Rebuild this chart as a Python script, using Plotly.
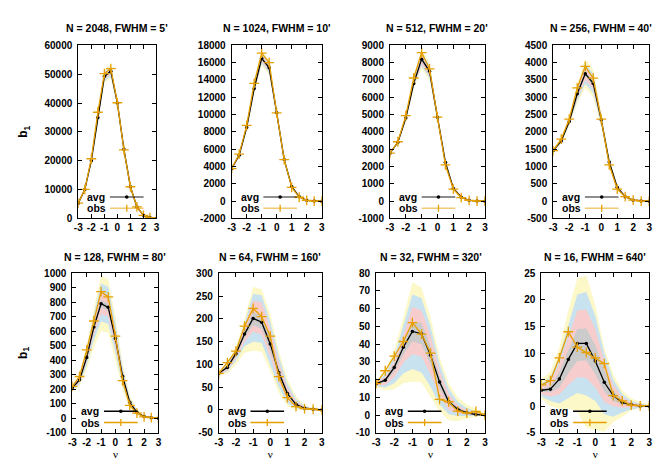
import plotly.graph_objects as go

W, H = 664, 465

nu = [-3, -2.5, -2, -1.5, -1, -0.5, 0, 0.5, 1, 1.5, 2, 2.5, 3]
x_ticks = [-3, -2, -1, 0, 1, 2, 3]
x_tick_labels = ["-3", "-2", "-1", "0", "1", "2", "3"]

titles = ["N = 2048, FWHM = 5'", "N = 1024, FWHM = 10'", "N = 512, FWHM = 20'", "N = 256, FWHM = 40'",
          "N = 128, FWHM = 80'", "N = 64, FWHM = 160'", "N = 32, FWHM = 320'", "N = 16, FWHM = 640'"]

y_ticks_2048 = [0, 10000, 20000, 30000, 40000, 50000, 60000]
y_ticks_1024 = [-2000, 0, 2000, 4000, 6000, 8000, 10000, 12000, 14000, 16000, 18000]
y_ticks_512 = [-1000, 0, 1000, 2000, 3000, 4000, 5000, 6000, 7000, 8000, 9000]
y_ticks_256 = [-500, 0, 500, 1000, 1500, 2000, 2500, 3000, 3500, 4000, 4500]
y_ticks_128 = [-100, 0, 100, 200, 300, 400, 500, 600, 700, 800, 900, 1000]
y_ticks_64 = [-50, 0, 50, 100, 150, 200, 250, 300]
y_ticks_32 = [-10, 0, 10, 20, 30, 40, 50, 60, 70, 80]
y_ticks_16 = [-5, 0, 5, 10, 15, 20, 25]

# ---- N = 2048 ----
avg_2048 = [5300, 10000, 20000, 35000, 49200, 51000, 40000, 24000, 11000, 4000, 1100, 300, 0]
obs_2048 = [5300, 10100, 20700, 36800, 50200, 51900, 40100, 23800, 11000, 4000, 1100, 300, 0]
hi_2048 = [  # yellow, blue, pink, gray upper edges
    [5450, 10350, 20700, 36200, 51500, 53500, 41300, 24800, 11400, 4150, 1150, 320, 10],
    [5400, 10250, 20500, 35800, 50800, 52800, 40900, 24550, 11280, 4100, 1135, 315, 7],
    [5360, 10160, 20320, 35450, 50200, 52100, 40550, 24300, 11170, 4060, 1120, 310, 4],
    [5330, 10080, 20150, 35200, 49700, 51500, 40250, 24120, 11080, 4030, 1110, 305, 2]]
lo_2048 = [  # yellow, blue, pink, gray lower edges
    [5150, 9650, 19300, 33800, 46900, 48500, 38700, 23200, 10600, 3850, 1050, 280, 0],
    [5200, 9750, 19500, 34200, 47600, 49200, 39100, 23450, 10720, 3900, 1065, 285, 0],
    [5240, 9840, 19680, 34550, 48200, 49900, 39450, 23700, 10830, 3940, 1080, 290, 0],
    [5270, 9920, 19850, 34800, 48700, 50500, 39750, 23880, 10920, 3970, 1090, 295, 0]]

# ---- N = 1024 ----
avg_1024 = [3750, 5300, 8500, 13000, 16500, 15400, 10200, 4800, 1700, 500, 100, 20, 0]
obs_1024 = [3750, 5430, 8750, 13600, 17100, 16000, 10200, 4800, 1600, 450, 100, 0, 0]
hi_1024 = [
    [3800, 5400, 8750, 13500, 17400, 16200, 10450, 4950, 1780, 540, 115, 25, 3],
    [3790, 5375, 8690, 13380, 17150, 15980, 10380, 4910, 1760, 530, 112, 24, 2],
    [3780, 5350, 8630, 13260, 16900, 15760, 10310, 4870, 1740, 520, 108, 23, 1],
    [3770, 5325, 8570, 13140, 16700, 15580, 10250, 4840, 1720, 510, 104, 22, 0.5]]
lo_1024 = [
    [3700, 5200, 8250, 12500, 15600, 14600, 9950, 4650, 1620, 460, 85, 15, 0],
    [3710, 5225, 8310, 12620, 15850, 14820, 10020, 4690, 1640, 470, 88, 16, 0],
    [3720, 5250, 8370, 12740, 16100, 15040, 10090, 4730, 1660, 480, 92, 17, 0],
    [3730, 5275, 8430, 12860, 16300, 15220, 10150, 4760, 1680, 490, 96, 18, 0]]

# ---- N = 512 ----
avg_512 = [2770, 3400, 4800, 6800, 8200, 7500, 4850, 2250, 750, 230, 50, 10, 0]
obs_512 = [2770, 3430, 4940, 7110, 8580, 7640, 4850, 2090, 700, 200, 40, 0, 0]
hi_512 = [
    [2820, 3480, 4960, 7080, 8750, 8000, 5100, 2350, 800, 250, 55, 12, 2],
    [2810, 3460, 4920, 7010, 8610, 7880, 5040, 2325, 790, 246, 54, 12, 1.5],
    [2800, 3440, 4885, 6945, 8480, 7760, 4980, 2300, 780, 242, 53, 11, 1],
    [2790, 3420, 4850, 6880, 8350, 7650, 4920, 2280, 770, 238, 52, 11, 1]]
lo_512 = [
    [2720, 3320, 4640, 6520, 7650, 7000, 4600, 2150, 700, 210, 45, 8, 0],
    [2730, 3340, 4680, 6590, 7790, 7120, 4660, 2175, 710, 214, 46, 8, 0],
    [2740, 3360, 4715, 6655, 7920, 7240, 4720, 2200, 720, 218, 47, 8, 0],
    [2750, 3380, 4750, 6720, 8050, 7350, 4780, 2220, 730, 222, 48, 9, 0]]

# ---- N = 256 ----
avg_256 = [1460, 1740, 2300, 3100, 3680, 3400, 2350, 1130, 400, 130, 30, 5, 0]
obs_256 = [1460, 1790, 2370, 3270, 3890, 3550, 2370, 1050, 350, 130, 30, 0, 0]
hi_256 = [
    [1520, 1820, 2430, 3380, 4100, 3800, 2560, 1260, 460, 160, 40, 10, 2],
    [1500, 1795, 2390, 3300, 3980, 3680, 2490, 1215, 440, 150, 36, 8, 1],
    [1485, 1775, 2355, 3220, 3860, 3570, 2430, 1180, 425, 143, 33, 7, 0.5],
    [1470, 1755, 2325, 3150, 3750, 3470, 2380, 1150, 410, 136, 31, 6, 0.2]]
lo_256 = [
    [1400, 1660, 2170, 2820, 3260, 3000, 2140, 1000, 340, 100, 20, 0, 0],
    [1420, 1685, 2210, 2900, 3380, 3120, 2210, 1045, 360, 110, 24, 2, 0],
    [1435, 1705, 2245, 2980, 3500, 3230, 2270, 1080, 375, 117, 27, 3, 0],
    [1450, 1725, 2275, 3050, 3610, 3330, 2320, 1110, 390, 124, 29, 4, 0]]

# ---- N = 128 ----
avg_128 = [210, 265, 420, 630, 790, 765, 550, 290, 110, 40, 12, 4, 0]
obs_128 = [220, 288, 472, 671, 873, 837, 567, 260, 89, 35, 10, 4, 0]
hi_128 = [
    [235, 310, 500, 760, 985, 960, 700, 380, 160, 60, 20, 6, 1],
    [228, 295, 475, 720, 930, 905, 655, 350, 140, 52, 16, 5, 0.8],
    [222, 282, 450, 680, 865, 840, 610, 322, 125, 46, 14, 4, 0.5],
    [217, 273, 432, 650, 815, 790, 575, 303, 116, 43, 13, 4, 0.3]]
lo_128 = [
    [185, 220, 335, 490, 600, 590, 400, 200, 65, 20, 4, 0, 0],
    [193, 235, 365, 540, 670, 650, 450, 232, 82, 27, 7, 1, 0],
    [200, 248, 390, 580, 720, 700, 490, 258, 95, 33, 9, 2, 0],
    [205, 258, 408, 610, 765, 740, 525, 278, 104, 37, 11, 3, 0]]

# ---- N = 64 ----
avg_64 = [80.5, 93.5, 123.6, 166.6, 201, 192.5, 145, 82, 36, 12.4, 3.8, 1.6, 0]
obs_64 = [80.5, 104, 129, 184, 223, 205, 162, 73, 27, 7.4, 3, 1.6, 0]
hi_64 = [
    [86, 105, 140, 200, 270, 265, 210, 130, 68, 30, 12, 4, 1],
    [84, 101, 134, 190, 255, 252, 195, 118, 58, 24, 9, 3, 0.7],
    [83, 98, 130, 181, 240, 236, 180, 105, 50, 19, 7, 2, 0.5],
    [82, 96, 127, 174, 215, 207, 160, 93, 42, 15, 5, 1.5, 0.3]]
lo_64 = [
    [75, 80, 100, 125, 130, 128, 85, 38, 8, 0, -1, -0.5, 0],
    [77, 85, 108, 140, 150, 147, 100, 50, 15, 3, 0, -0.5, 0],
    [78, 88, 114, 150, 172, 165, 117, 62, 23, 6, 1, 0, 0],
    [79, 91, 119, 158, 186, 178, 130, 72, 30, 9, 2.5, 0.5, 0]]

# ---- N = 32 ----
avg_32 = [17.7, 19.7, 26.9, 38.3, 47.2, 45.9, 33.7, 18.6, 7.5, 3.3, 1.3, 0.3, 0]
obs_32 = [17.7, 25.0, 33.2, 41.5, 52.2, 45.7, 35.0, 8.8, 7.5, 2.2, 1.1, 2.0, 0]
hi_32 = [
    [19.5, 25, 37, 55, 75, 72, 55, 33, 18, 10, 6, 3.5, 1],
    [18.8, 23, 33, 50, 68, 66, 50, 29, 15, 7.5, 4, 2, 0.6],
    [18.3, 21.5, 30.5, 45, 61, 59, 45, 25, 12, 5.5, 2.5, 1.2, 0.4],
    [18, 20.5, 29, 41, 53, 52, 39, 21.5, 9.5, 4.2, 1.8, 0.7, 0.2]]
lo_32 = [
    [15.5, 14, 14.5, 18, 19, 18.5, 10, 2, -3, -3.5, -2, -1, 0],
    [16.3, 15.5, 18, 23.5, 26, 24, 16, 6, 0.5, -0.5, -0.6, -0.5, 0],
    [16.8, 17, 21.5, 29.5, 34.5, 33, 23, 11, 3, 1, 0.2, -0.2, 0],
    [17.2, 18.5, 24.5, 34, 41.5, 40, 28.5, 15, 5.5, 2.2, 0.7, 0.1, 0]]

# ---- N = 16 ----
avg_16 = [3.0, 3.2, 5.1, 8.8, 11.8, 11.8, 8.5, 4.5, 2.0, 0.7, 0.25, 0.05, 0]
obs_16 = [4.0, 4.8, 9.1, 14.0, 11.1, 10.1, 9.1, 8.0, 2.0, 1.0, 0.2, 0.05, 0]
hi_16 = [
    [5, 6.5, 11, 18, 24, 24.6, 19, 11, 6, 3, 1.5, 0.8, 0.3],
    [4.2, 5.5, 9.5, 15.5, 21, 21.5, 17, 10, 5, 2.3, 1, 0.5, 0.2],
    [3.6, 4.5, 8, 13, 18, 18.2, 14.5, 8.5, 4, 1.7, 0.7, 0.3, 0.1],
    [3.2, 3.8, 6.5, 10.5, 14.5, 14.6, 11.5, 6.8, 3, 1.2, 0.5, 0.2, 0.05]]
lo_16 = [
    [1.4, 0, -0.5, -0.5, -1.0, -4.0, -4.5, -4.8, -3.0, -2.0, -0.8, -0.3, 0],
    [1.8, 1.0, 0.5, 1.5, 2.5, 2.0, 1.0, -1.5, -2.0, -1.2, -0.6, -0.3, 0],
    [2.2, 1.8, 2.2, 4, 5.5, 5.3, 3.5, 0.8, 0, -0.3, -0.2, -0.1, 0],
    [2.6, 2.6, 3.5, 6.2, 8.5, 8.6, 6.0, 2.7, 1.0, 0.3, 0.05, 0, 0]]

avgs = [avg_2048, avg_1024, avg_512, avg_256, avg_128, avg_64, avg_32, avg_16]
obss = [obs_2048, obs_1024, obs_512, obs_256, obs_128, obs_64, obs_32, obs_16]
his = [hi_2048, hi_1024, hi_512, hi_256, hi_128, hi_64, hi_32, hi_16]
los = [lo_2048, lo_1024, lo_512, lo_256, lo_128, lo_64, lo_32, lo_16]
y_ticks = [y_ticks_2048, y_ticks_1024, y_ticks_512, y_ticks_256,
           y_ticks_128, y_ticks_64, y_ticks_32, y_ticks_16]

band_colors = ["#fcf8c8", "#c9e2f0", "#f7cccc", "#cbcbcb"]
ORANGE = "#e69f00"

# plot-area pixel boxes: (left, right, top, bottom)
boxes = [(67, 146, 33, 210), (222, 313, 33, 210), (382, 478, 33, 210), (547, 644, 33, 210),
         (61, 148, 266, 429), (209, 313, 266, 429), (368, 478, 266, 429), (535, 644, 266, 429)]

FONT = "Liberation Sans"
fig = go.Figure()
layout = dict(width=W, height=H, margin=dict(l=0, r=0, t=0, b=0),
              paper_bgcolor="white", plot_bgcolor="white", showlegend=False)
annotations = []
shapes = []

for i in range(8):
    n = i + 1
    xa = "x" if n == 1 else f"x{n}"
    ya = "y" if n == 1 else f"y{n}"
    L, R, T, B = boxes[i]
    yt = y_ticks[i]
    xaxis = dict(
        domain=[L / W, R / W], anchor=ya, range=[-3, 3],
        tickmode="array", tickvals=x_ticks, ticktext=x_tick_labels, tickangle=0,
        ticks="inside", ticklen=4, tickwidth=1, tickcolor="black", mirror="allticks",
        showline=True, linecolor="black", linewidth=1, showgrid=False, zeroline=False,
        tickfont=dict(family=FONT, size=10, color="black", weight="bold"),
        ticklabelstandoff=0)
    if i >= 4:
        xaxis["title"] = dict(text="ν", standoff=0,
                              font=dict(family="Liberation Serif", size=11, color="black"))
    layout["xaxis" if n == 1 else f"xaxis{n}"] = xaxis
    layout["yaxis" if n == 1 else f"yaxis{n}"] = dict(
        domain=[(H - B) / H, (H - T) / H], anchor=xa, range=[yt[0], yt[-1]],
        tickmode="array", tickvals=yt, ticktext=[str(v) for v in yt],
        ticks="inside", ticklen=4, tickwidth=1, tickcolor="black", mirror="allticks",
        showline=True, linecolor="black", linewidth=1, showgrid=False, zeroline=False,
        tickfont=dict(family=FONT, size=10, color="black", weight="bold"),
        ticklabelstandoff=3)

    # bands (outer to inner)
    for k in range(4):
        fig.add_trace(go.Scatter(
            x=nu + nu[::-1], y=his[i][k] + los[i][k][::-1], fill="toself",
            fillcolor=band_colors[k], line=dict(width=0), mode="lines",
            hoverinfo="skip", xaxis=xa, yaxis=ya))
    fig.add_trace(go.Scatter(
        x=nu, y=avgs[i], mode="lines+markers", line=dict(color="black", width=1.3),
        marker=dict(color="black", size=3.5, symbol="circle"), xaxis=xa, yaxis=ya, name="avg"))
    fig.add_trace(go.Scatter(
        x=nu, y=obss[i], mode="lines+markers", line=dict(color=ORANGE, width=1.3),
        marker=dict(symbol="cross-thin", size=7, line=dict(color=ORANGE, width=1.3)),
        xaxis=xa, yaxis=ya, name="obs"))

    # title
    annotations.append(dict(text=f"<b>{titles[i]}</b>", x=(L + R) / 2 / W,
                            y=(H - (15 if i < 4 else 249)) / H, xref="paper", yref="paper",
                            showarrow=False, xanchor="center", yanchor="middle",
                            font=dict(family=FONT, size=10.5, color="black")))

    # legend (text then sample, gnuplot style)
    pw = R - L
    ph = B - T
    top_row = i < 4
    avg_col = "rgba(0,0,0,0.6)" if top_row else "black"
    obs_col = "rgba(230,159,0,0.55)" if top_row else ORANGE
    for lab, yoff in [("avg", 22), ("obs", 10.5)]:
        annotations.append(dict(text=f"<b>{lab}</b>", x=7 / pw, y=yoff / ph,
                                xref=f"{xa} domain", yref=f"{ya} domain", showarrow=False,
                                xanchor="left", yanchor="middle",
                                font=dict(family=FONT, size=10.5, color="black")))
        col = avg_col if lab == "avg" else obs_col
        shapes.append(dict(type="line", xref=f"{xa} domain", yref=f"{ya} domain",
                           x0=32 / pw, x1=66 / pw, y0=yoff / ph, y1=yoff / ph,
                           line=dict(color=col, width=1.6)))
        cx = 49 / pw
        cy = yoff / ph
        if lab == "avg":
            shapes.append(dict(type="circle", xref=f"{xa} domain", yref=f"{ya} domain",
                               xsizemode="pixel", ysizemode="pixel", xanchor=cx, yanchor=cy,
                               x0=-1.8, x1=1.8, y0=-1.8, y1=1.8, fillcolor="black",
                               line=dict(color="black", width=0)))
        else:
            shapes.append(dict(type="line", xref=f"{xa} domain", yref=f"{ya} domain",
                               xsizemode="pixel", ysizemode="pixel", xanchor=cx, yanchor=cy,
                               x0=0, x1=0, y0=-3.5, y1=3.5, line=dict(color=ORANGE, width=1.3)))

# y-axis labels
for yc in [121.5, 347.5]:
    annotations.append(dict(text="<b>b<sub>1</sub></b>", x=12 / W, y=(H - yc) / H,
                            xref="paper", yref="paper", showarrow=False, textangle=-90,
                            xanchor="center", yanchor="middle",
                            font=dict(family=FONT, size=12, color="black")))

layout["annotations"] = annotations
layout["shapes"] = shapes
fig.update_layout(**layout)
fig.write_html("out.html")
